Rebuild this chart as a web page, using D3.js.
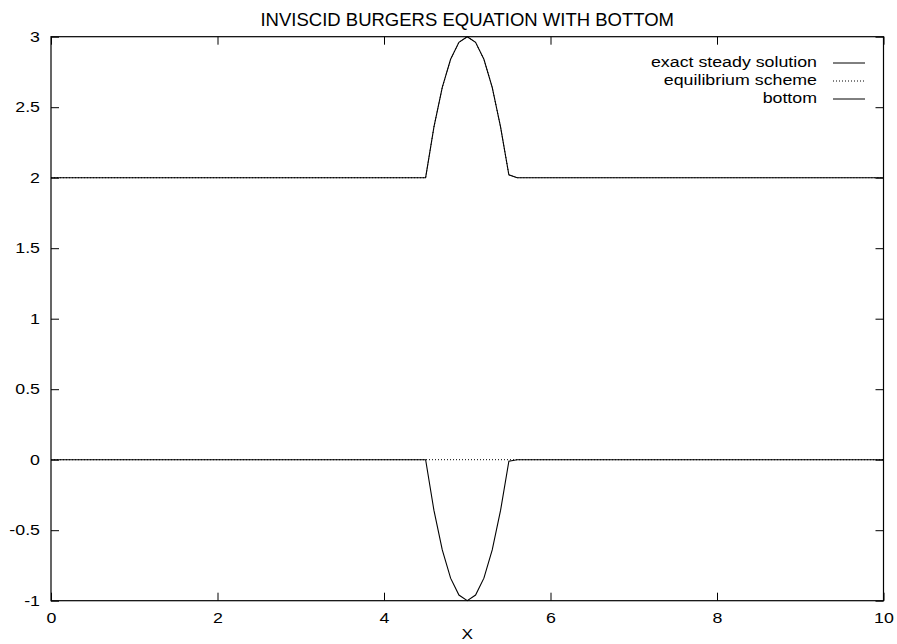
<!DOCTYPE html>
<html><head><meta charset="utf-8">
<script src="https://cdn.jsdelivr.net/npm/d3@7"></script>
<style>body{margin:0;background:#fff}svg{display:block}text{font-family:"Liberation Sans",Arial,sans-serif;fill:#000}</style>
</head><body>
<script>
// Data
const xs        = [0, 4.5, 4.6, 4.7, 4.8, 4.9, 5.0, 5.1, 5.2, 5.3, 5.4, 5.5, 5.6, 10];
const exactU    = [2, 2, 2.36, 2.64, 2.84, 2.96, 3, 2.96, 2.84, 2.64, 2.36, 2.02, 2, 2];
const schemeU   = [2, 2, 2.36, 2.64, 2.84, 2.96, 3, 2.96, 2.84, 2.64, 2.36, 2.02, 2, 2];
const bottom    = [0, 0, -0.36, -0.64, -0.84, -0.96, -1, -0.96, -0.84, -0.64, -0.36, -0.01, 0, 0];
const xTicks    = [0, 2, 4, 6, 8, 10];
const yTicks    = [-1, -0.5, 0, 0.5, 1, 1.5, 2, 2.5, 3];
const legendNames = ["exact steady solution", "equilibrium scheme", "bottom"];
const titleText = "INVISCID BURGERS EQUATION WITH BOTTOM";
const xLabel = "X";

const W = 897, H = 644;
const L = 51, R = 883.5, T = 36.7, B = 600.7;
const SX = 1.27; // horizontal stretch of the small text
const svg = d3.select("body").append("svg").attr("width", W).attr("height", H);
const x = d3.scaleLinear().domain([0, 10]).range([L, R]);
const y = d3.scaleLinear().domain([-1, 3]).range([B, T]);

const fmt = d => String(d);
const tl = 8;
const axB = d3.axisBottom(x).tickValues(xTicks).tickFormat(fmt).tickSizeInner(-tl).tickSizeOuter(0).tickPadding(12.8);
const axT = d3.axisTop(x).tickValues(xTicks).tickFormat("").tickSizeInner(-tl).tickSizeOuter(0);
const axL = d3.axisLeft(y).tickValues(yTicks).tickFormat(fmt).tickSizeInner(-tl).tickSizeOuter(0).tickPadding(11);
const axR = d3.axisRight(y).tickValues(yTicks).tickFormat("").tickSizeInner(-tl).tickSizeOuter(0);
function style(g){
  g.select(".domain").remove();
  g.selectAll("line").attr("stroke","#000").attr("stroke-width",1);
  g.selectAll("text").attr("font-size",14).attr("font-family",'"Liberation Sans",Arial,sans-serif').attr("fill","#000")
    .each(function(){ const t=d3.select(this); const xv=+(t.attr("x")||0); t.attr("x", xv/SX).attr("transform",`scale(${SX},1)`); });
}
svg.append("g").attr("transform",`translate(0,${B})`).call(axB).call(style);
svg.append("g").attr("transform",`translate(0,${T})`).call(axT).call(style);
svg.append("g").attr("transform",`translate(${L},0)`).call(axL).call(style);
svg.append("g").attr("transform",`translate(${R},0)`).call(axR).call(style);

// zero axis (dotted)
svg.append("line").attr("x1",x(0)).attr("x2",x(10)).attr("y1",y(0)).attr("y2",y(0))
  .attr("stroke","#000").attr("stroke-width",1).attr("stroke-dasharray","1,2");

const line = d3.line().x((d,i)=>x(xs[i])).y(d=>y(d));
svg.append("path").attr("d", line(exactU)).attr("fill","none").attr("stroke","#000").attr("stroke-width",1.1);
svg.append("path").attr("d", line(schemeU)).attr("fill","none").attr("stroke","#000").attr("stroke-width",1).attr("stroke-dasharray","1,2");
svg.append("path").attr("d", line(bottom)).attr("fill","none").attr("stroke","#000").attr("stroke-width",1.1);

// frame
svg.append("rect").attr("x",L).attr("y",T).attr("width",R-L).attr("height",B-T)
  .attr("fill","none").attr("stroke","#000").attr("stroke-width",1.2);

// title & label
svg.append("text").attr("x",(L+R)/2).attr("y",26).attr("text-anchor","middle").attr("font-size",18.5).text(titleText);
svg.append("text").attr("transform",`translate(${(L+R)/2},639) scale(1.15,1)`).attr("text-anchor","middle").attr("font-size",15).text(xLabel);

// legend
const dashes = [null, "1,2", null];
const lg = svg.append("g");
legendNames.forEach((n,i)=>{
  const ly = 63 + i*18;
  lg.append("text").attr("transform",`translate(817,${ly+4}) scale(${SX},1)`).attr("text-anchor","end").attr("font-size",14).text(n);
  lg.append("line").attr("x1",833).attr("x2",865).attr("y1",ly).attr("y2",ly).attr("stroke","#000").attr("stroke-width",1)
    .attr("stroke-dasharray",dashes[i]);
});
</script>
</body></html>
